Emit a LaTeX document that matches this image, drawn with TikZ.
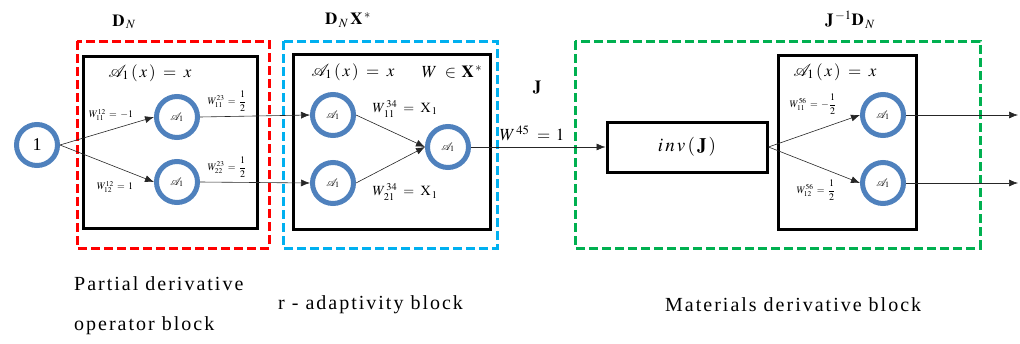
\documentclass[tikz,border=0pt]{standalone}
\usepackage{amsmath}
\usepackage{mathptmx}
\usepackage{mathrsfs}
\usepackage{fontspec}
\setmainfont{Liberation Serif}
\newfontfamily\spacedfont[LetterSpace=10]{Liberation Serif}
\usetikzlibrary{arrows.meta}
\definecolor{ringblue}{RGB}{79,129,189}
\definecolor{dred}{RGB}{255,0,0}
\definecolor{dblue}{RGB}{0,176,240}
\definecolor{dgreen}{RGB}{0,176,80}
\tikzset{
  neuron/.style={circle, draw=ringblue, line width=5pt, fill=white, minimum size=41pt, inner sep=0pt, font=\fontsize{11}{11}\selectfont},
  innerbox/.style={draw=black, line width=3pt},
  dashbox/.style={line width=3pt, dash pattern=on 9pt off 4pt},
  conn/.style={draw=black!85, line width=0.6pt, -{Latex[length=9pt,width=7pt]}},
  wlab/.style={font=\fontsize{10}{10}\selectfont, inner sep=0pt},
  flab/.style={font=\fontsize{17}{17}\selectfont, inner sep=0pt},
  toplab/.style={font=\fontsize{17}{17}\selectfont, inner sep=0pt},
  bottomlab/.style={font=\fontsize{20}{20}\selectfont\spacedfont, inner sep=0pt, anchor=west},
}
\newcommand{\Aone}{\mathscr{A}_1}
\newcommand{\Afun}{\Aone\,(\,x\,)\;=\;x}
\begin{document}
\begin{tikzpicture}[x=1pt,y=-1pt]
\useasboundingbox (0,0) rectangle (1020,343);
% dashed outer boxes
\draw[dashbox, draw=dred] (77,41) rectangle (269,248);
\draw[dashbox, draw=dblue] (283,41) rectangle (497,248);
\draw[dashbox, draw=dgreen] (575,41) rectangle (980,248);
% inner boxes
\draw[innerbox] (83,56) rectangle (257,228);
\draw[innerbox] (293,54) rectangle (490,229);
\draw[innerbox] (778,55) rectangle (916,229);
% top labels
\node[toplab] (lDN) at (124,22) {$\mathbf{D}_{\,N}$};
\node[toplab] (lDNX) at (348,20) {$\mathbf{D}_{\,N}\,\mathbf{X}^{\,*}$};
\node[toplab] (lJ) at (537,88) {$\mathbf{J}$};
\node[toplab] (lJD) at (850,20) {$\mathbf{J}^{\,-1}\mathbf{D}_{\,N}$};
% function labels
\node[flab] (f1) at (150,73) {$\Afun$};
\node[flab] (f2) at (353,72) {$\Afun$};
\node[flab] (f2b) at (452,72) {$W\;\in\,\mathbf{X}^{\,*}$};
\node[flab] (f3) at (835,72) {$\Afun$};
% nodes
\node[neuron, font=\fontsize{18}{18}\selectfont] (in) at (37,145) {1};
\node[neuron] (n1) at (177,117) {$\Aone$};
\node[neuron] (n2) at (177,182) {$\Aone$};
\node[neuron] (m1) at (333,115) {$\Aone$};
\node[neuron] (m2) at (333,183) {$\Aone$};
\node[neuron] (m3) at (448,147) {$\Aone$};
\node[draw=black, line width=3pt, minimum width=160pt, minimum height=50pt, inner sep=0pt, font=\fontsize{19}{19}\selectfont] (inv) at (687,147) {$i\,n\,v\,(\,\mathbf{J}\,)$};
\node[neuron] (o1) at (883,115) {$\Aone$};
\node[neuron] (o2) at (883,183) {$\Aone$};
\coordinate (out1) at (1018,115);
\coordinate (out2) at (1018,183);
% connectors
\draw[conn] (in.east) -- (n1.west);
\draw[conn] (in.east) -- (n2.west);
\draw[conn] (n1.east) -- (m1.west);
\draw[conn] (n2.east) -- (m2.west);
\draw[conn] (m1.east) -- (m3.west);
\draw[conn] (m2.east) -- (m3.west);
\draw[conn] (m3.east) -- (inv.west);
\draw[conn] (inv.east) -- (o1.west);
\draw[conn] (inv.east) -- (o2.west);
\draw[conn] (o1.east) -- (out1);
\draw[conn] (o2.east) -- (out2);
% weight labels
\node[wlab] (w1) at (111,115) {$W^{12}_{11}\,=\,-1$};
\node[wlab] (w2) at (115,187) {$W^{12}_{12}\,=\,1$};
\node[wlab] (w3) at (227,101) {$W^{23}_{11}\,=\,\dfrac{1}{2}$};
\node[wlab] (w4) at (227,167) {$W^{23}_{22}\,=\,\dfrac{1}{2}$};
\node[flab, font=\fontsize{14}{14}\selectfont] (w5) at (405,109) {$W^{\,34}_{\,11}\;=\;\mathrm{X}_{\,1}$};
\node[flab, font=\fontsize{14}{14}\selectfont] (w6) at (405,192) {$W^{\,34}_{\,21}\;=\;\mathrm{X}_{\,1}$};
\node[flab] (w7) at (532,133) {$W^{\,45}\;=\,1$};
\node[wlab] (w8) at (813,104) {$W^{56}_{11}\,=\,-\dfrac{1}{2}$};
\node[wlab] (w9) at (816,190) {$W^{56}_{12}\,=\,\dfrac{1}{2}$};
% bottom labels
\node[bottomlab] (b1) at (74,284) {Partial derivative};
\node[bottomlab] (b2) at (74,326) {operator block};
\node[bottomlab] (b3) at (278,305) {r - adaptivity block};
\node[bottomlab] (b4) at (665,305) {Materials derivative block};
\end{tikzpicture}
\end{document}
